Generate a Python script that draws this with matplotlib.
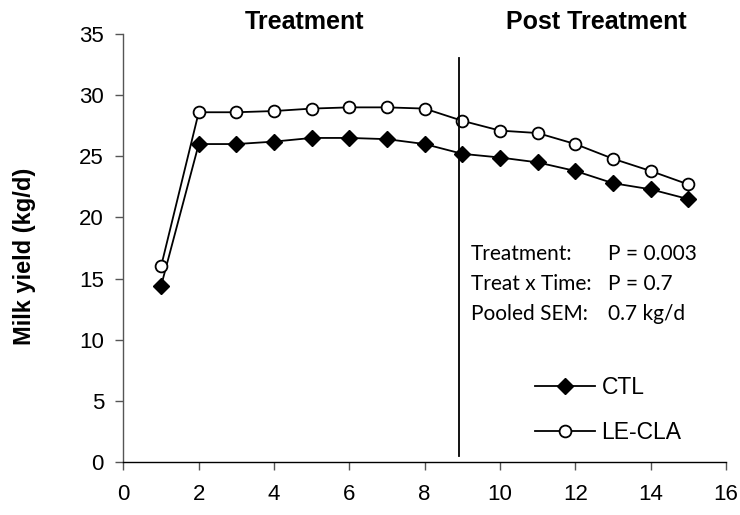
import matplotlib
matplotlib.use("Agg")
import matplotlib.pyplot as plt

weeks = [1, 2, 3, 4, 5, 6, 7, 8, 9, 10, 11, 12, 13, 14, 15]
ctl = [14.4, 26.0, 26.0, 26.2, 26.5, 26.5, 26.4, 26.0, 25.2, 24.9, 24.5, 23.8, 22.8, 22.3, 21.5]
le_cla = [16.0, 28.6, 28.6, 28.7, 28.9, 29.0, 29.0, 28.9, 27.9, 27.1, 26.9, 26.0, 24.8, 23.8, 22.7]
series_names = ["CTL", "LE-CLA"]
x_ticks = [0, 2, 4, 6, 8, 10, 12, 14, 16]
y_ticks = [0, 5, 10, 15, 20, 25, 30, 35]
divider_x = 8.9
stats_labels = ["Treatment:", "Treat x Time:", "Pooled SEM:"]
stats_values = ["P = 0.003", "P = 0.7", "0.7 kg/d"]

plt.rcParams['font.family'] = ['Liberation Sans', 'DejaVu Sans']

fig = plt.figure(figsize=(7.4, 5.15), dpi=100)
ax = fig.add_axes([0.1668, 0.1029, 0.8142, 0.8311])

ax.plot(weeks, ctl, color='black', lw=1.3, marker='D', markersize=8.5,
        markerfacecolor='black', markeredgecolor='black', label=series_names[0])
ax.plot(weeks, le_cla, color='black', lw=1.3, marker='o', markersize=8.5,
        markerfacecolor='white', markeredgecolor='black', markeredgewidth=1.3,
        label=series_names[1])

ax.plot([divider_x, divider_x], [0.5, 33.0], color='black', lw=1.3)

ax.set_xlim(0, 16)
ax.set_ylim(0, 35)
ax.set_xticks(x_ticks)
ax.set_yticks(y_ticks)
ax.tick_params(axis='both', direction='out', length=6, width=1, labelsize=16, color='#555555')
ax.tick_params(axis='x', pad=10)
ax.tick_params(axis='y', pad=8)
for s in ['top', 'right']:
    ax.spines[s].set_visible(False)
for s in ['left', 'bottom']:
    ax.spines[s].set_linewidth(1.0)
ax.spines['left'].set_color('#555555')

fig.text(25 / 740, 1 - 256 / 515, 'Milk yield (kg/d)', rotation=90, ha='center',
         va='center', fontsize=17, fontweight='bold')

ax.text(4.8, 36.0, 'Treatment', ha='center', va='center', fontsize=18,
        fontweight='bold', clip_on=False)
ax.text(12.55, 36.0, 'Post Treatment', ha='center', va='center', fontsize=18,
        fontweight='bold', clip_on=False)

for i, (lab, val) in enumerate(zip(stats_labels, stats_values)):
    yy = 17.0 - i * 2.45
    ax.text(9.23, yy, lab, ha='left', va='center', fontsize=15, family=['Lato', 'DejaVu Sans'])
    ax.text(12.86, yy, val, ha='left', va='center', fontsize=15, family=['Lato', 'DejaVu Sans'])

leg = ax.legend(loc='upper left', bbox_to_anchor=(0.683, 0.2), frameon=False,
                fontsize=16.5, handlelength=2.6, handletextpad=0.3, labelspacing=0.96,
                borderpad=0, borderaxespad=0)

fig.savefig('out.png', dpi=100)
